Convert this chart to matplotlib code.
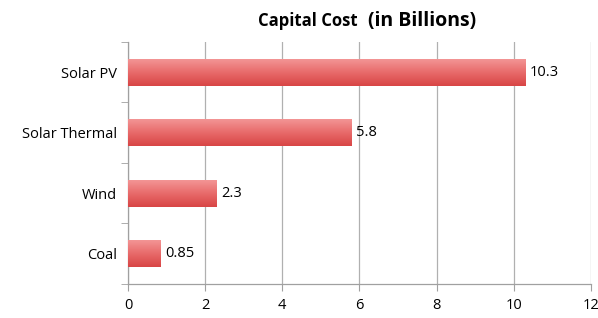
import numpy as np
import matplotlib.pyplot as plt
from matplotlib.colors import LinearSegmentedColormap

categories = ['Coal', 'Wind', 'Solar Thermal', 'Solar PV']
costs = [0.85, 2.3, 5.8, 10.3]
labels = ['0.85', '2.3', '5.8', '10.3']

plt.rcParams['font.family'] = ['Open Sans', 'DejaVu Sans']

fig = plt.figure(figsize=(5.98, 3.18), dpi=100)
ax = fig.add_axes([0.214, 0.107, 0.774, 0.761])

y = np.arange(len(categories))
bars = ax.barh(y, costs, height=0.44, color='#e05a5a', edgecolor='none', zorder=3)

# vertical gradient on each bar
cmap = LinearSegmentedColormap.from_list('redgrad', ['#d84545', '#e86a6a', '#f39595'])
grad = np.linspace(0, 1, 100).reshape(-1, 1)
for b in bars:
    x0, y0 = b.get_x(), b.get_y()
    w, h = b.get_width(), b.get_height()
    im = ax.imshow(grad, cmap=cmap, aspect='auto', origin='lower',
                   extent=[x0, x0 + w, y0, y0 + h], zorder=4)
    im.set_clip_path(b)

for yi, v, lab in zip(y, costs, labels):
    ax.text(v + 0.12, yi, lab, va='center', ha='left', fontsize=10.5, color='black', zorder=5)

ax.set_xlim(0, 12)
ax.set_ylim(-0.5, len(categories) - 0.5)
ax.set_xticks(range(0, 13, 2))
ax.set_yticks(y)
ax.set_yticklabels(categories, fontsize=10.5)
ax.set_yticks(np.arange(-0.5, len(categories), 1), minor=True)
ax.tick_params(axis='y', which='major', length=0, pad=8)
ax.tick_params(axis='y', which='minor', length=5, color='#a0a0a0', direction='out')
ax.tick_params(axis='x', length=5, color='#a0a0a0', direction='out', pad=5, labelsize=10.5)

ax.grid(axis='x', color='#b0b0b0', linewidth=0.9, zorder=0)
for s in ['top', 'right']:
    ax.spines[s].set_visible(False)
for s in ['left', 'bottom']:
    ax.spines[s].set_color('#a0a0a0')
    ax.spines[s].set_linewidth(0.9)

fig.text(0.598, 0.935, 'Capital Cost', ha='right', va='center', fontsize=12, fontweight='bold')
fig.text(0.615, 0.935, '(in Billions)', ha='left', va='center', fontsize=14, fontweight='bold')

fig.savefig('out.png', dpi=100)
